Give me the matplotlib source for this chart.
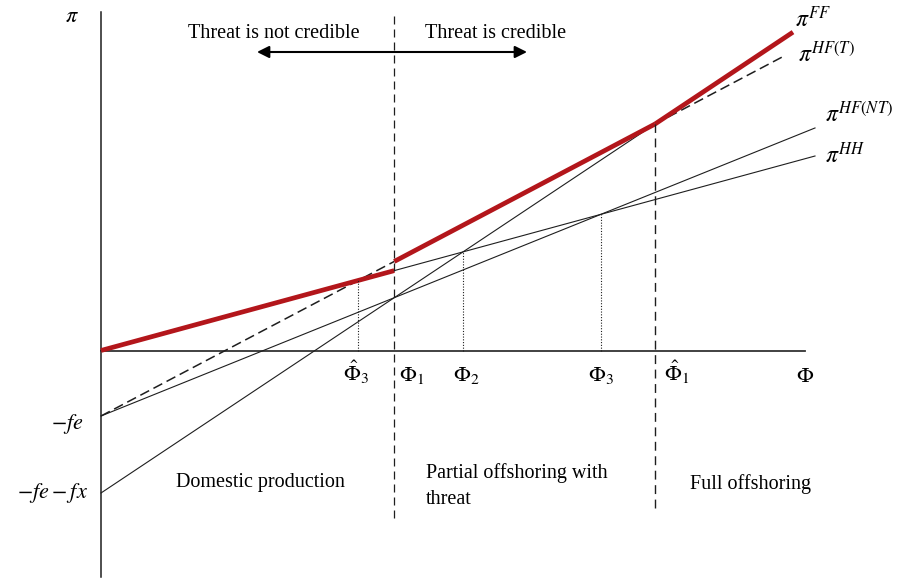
import matplotlib.pyplot as plt
import numpy as np

plt.rcParams['font.family'] = ['Liberation Serif', 'DejaVu Serif']
plt.rcParams['mathtext.fontset'] = 'stix'

# profit lines pi = a + b * Phi
fe = 0.655
fx = 0.77
curves = ['HH', 'HF(NT)', 'HF(T)', 'FF']
intercepts = [0.0, -fe, -fe, -fe - fx]
slopes = [0.2724, 0.4034, 0.527, 0.666]
line_ends = [7.14, 7.14, 6.83, 6.92]

RED = '#b3161b'
INK = '#1e1e1e'

def line(i, x):
    return intercepts[i] + slopes[i] * np.asarray(x)

def cross(i, j):
    return (intercepts[j] - intercepts[i]) / (slopes[i] - slopes[j])

HH, NT, T, FF = 0, 1, 2, 3
phi3_hat = cross(HH, T)
phi1 = cross(NT, FF)
phi2 = cross(HH, FF)
phi3 = cross(HH, NT)
phi1_hat = cross(T, FF)

fig = plt.figure(figsize=(9.04, 5.78), dpi=100)
ax = fig.add_axes([0, 0, 1, 1])
ax.set_xlim(-1.01, 8.03)
ax.set_ylim(-2.275, 3.505)
ax.axis('off')

# axes
ax.plot([0, 0], [-2.26, 3.38], color=INK, lw=1.1)
ax.plot([0, 7.04], [0, 0], color='#333333', lw=1.3)

# thin solid lines
for i in (HH, NT):
    xs = np.array([0, line_ends[i]])
    ax.plot(xs, line(i, xs), color=INK, lw=0.8)
xs = np.array([0, phi1_hat])
ax.plot(xs, line(FF, xs), color=INK, lw=0.8)

# dashed pi^HF(T) outside the envelope
for a, b in [(0, phi1), (phi1_hat, line_ends[T])]:
    xs = np.array([a, b])
    ax.plot(xs, line(T, xs), color=INK, lw=1.1, ls=(0, (6.5, 3.2)))

# upper envelope
for i, a, b in [(HH, 0, phi1), (T, phi1, phi1_hat), (FF, phi1_hat, line_ends[FF])]:
    xs = np.array([a, b])
    ax.plot(xs, line(i, xs), color=RED, lw=3.4, solid_capstyle='butt')

# dotted guides
for x, i in [(phi3_hat, HH), (phi2, HH), (phi3, HH)]:
    ax.plot([x, x], [0, line(i, x)], color=INK, lw=0.8, ls=(0, (1, 1.5)))

# regime borders
ax.plot([phi1, phi1], [-1.675, 3.375], color=INK, lw=0.9, ls=(0, (6.4, 4)))
ax.plot([phi1_hat, phi1_hat], [-1.575, line(FF, phi1_hat)], color=INK, lw=1.0, ls=(0, (6.4, 4)))

# tick labels on the Phi axis
ty = -0.31
ax.text(phi3_hat - 0.02, ty, r'$\hat{\Phi}_3$', fontsize=16, ha='center', va='baseline')
ax.text(phi1 + 0.05, ty, r'$\Phi_1$', fontsize=16, ha='left', va='baseline')
ax.text(phi2 + 0.03, ty, r'$\Phi_2$', fontsize=16, ha='center', va='baseline')
ax.text(phi3, ty, r'$\Phi_3$', fontsize=16, ha='center', va='baseline')
ax.text(phi1_hat + 0.09, ty, r'$\hat{\Phi}_1$', fontsize=16, ha='left', va='baseline')
ax.text(7.04, ty, r'$\Phi$', fontsize=16, ha='center', va='baseline')

# intercept labels and axis name
ax.text(-0.17, intercepts[T] - 0.08, r'$-fe$', fontsize=16, ha='right', va='center')
ax.text(-0.13, intercepts[FF], r'$-fe-fx$', fontsize=16, ha='right', va='center')
ax.text(-0.29, 3.325, r'$\pi$', fontsize=16, ha='center', va='center')

# curve labels
ax.text(6.94, 3.235, r'$\pi^{FF}$', fontsize=17, ha='left', va='baseline')
ax.text(6.97, 2.885, r'$\pi^{HF(T)}$', fontsize=17, ha='left', va='baseline')
ax.text(7.24, 2.285, r'$\pi^{HF(NT)}$', fontsize=17, ha='left', va='baseline')
ax.text(7.24, 1.875, r'$\pi^{HH}$', fontsize=17, ha='left', va='baseline')

# credibility arrow
ax.annotate('', xy=(1.56, 2.985), xytext=(4.26, 2.985),
            arrowprops=dict(arrowstyle='<|-|>', lw=1.5, color='black',
                            mutation_scale=18, shrinkA=0, shrinkB=0))
ax.text(1.73, 3.175, 'Threat is not credible', fontsize=14.5, ha='center', va='center')
ax.text(3.95, 3.175, 'Threat is credible', fontsize=14.5, ha='center', va='center')

# regime names
ax.text(1.59, -1.325, 'Domestic production', fontsize=14.5, ha='center', va='center')
ax.text(3.25, -1.355, 'Partial offshoring with\nthreat', fontsize=14.5, ha='left', va='center',
        linespacing=1.45)
ax.text(6.5, -1.335, 'Full offshoring', fontsize=14.5, ha='center', va='center')

fig.savefig('out.png', dpi=100)
